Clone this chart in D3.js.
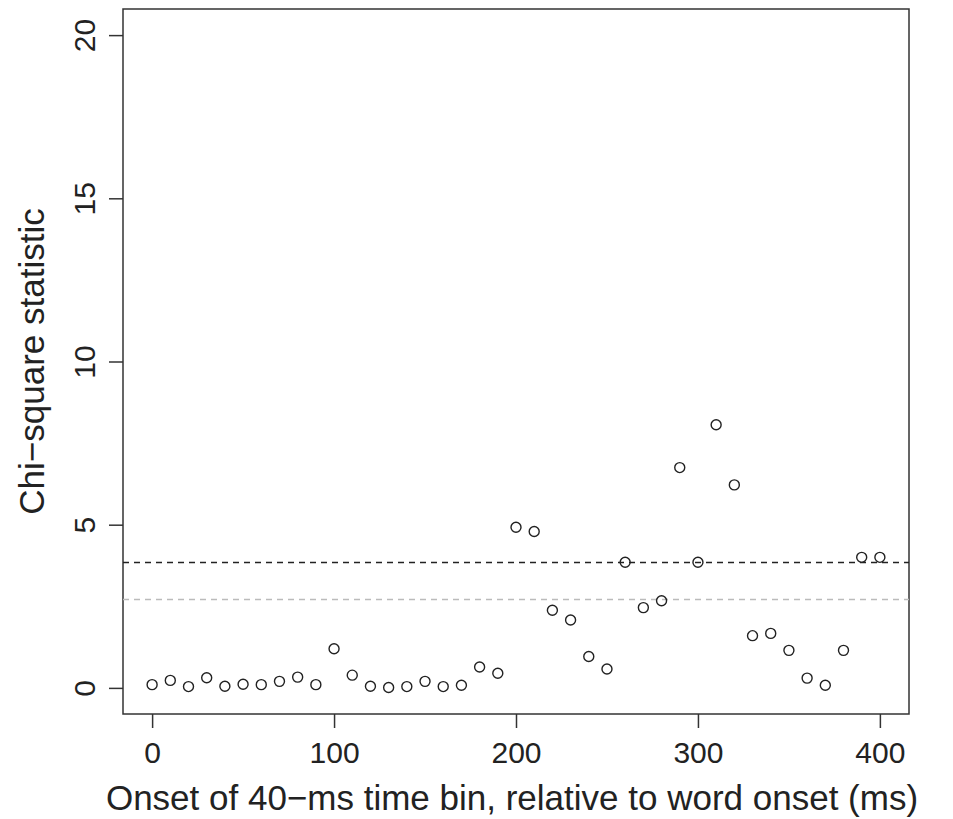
<!DOCTYPE html>
<html>
<head>
<meta charset="utf-8">
<script src="https://cdn.jsdelivr.net/npm/d3@7"></script>
<style>
  body { margin: 0; background: #fff; }
  svg { display: block; font-family: "Liberation Sans", Arial, sans-serif; }
</style>
</head>
<body>
<div id="container"></div>
<script>
// bin onset (ms) and chi-square value per bin
const onsets = [0, 10, 20, 30, 40, 50, 60, 70, 80, 90,
                100, 110, 120, 130, 140, 150, 160, 170, 180, 190,
                200, 210, 220, 230, 240, 250, 260, 270, 280, 290,
                300, 310, 320, 330, 340, 350, 360, 370, 380, 390, 400];
const chiSq  = [0.10, 0.23, 0.04, 0.31, 0.05, 0.11, 0.10, 0.20, 0.33, 0.10,
                1.20, 0.39, 0.05, 0.01, 0.04, 0.20, 0.04, 0.08, 0.64, 0.45,
                4.92, 4.79, 2.38, 2.08, 0.96, 0.58, 3.85, 2.46, 2.67, 6.75,
                3.85, 8.06, 6.22, 1.60, 1.67, 1.15, 0.30, 0.08, 1.15, 4.00, 4.00];
const xTicks = [0, 100, 200, 300, 400];
const yTicks = [0, 5, 10, 15, 20];
// critical values, p = .05 (black) and p = .10 (grey)
const critical = [3.84, 2.71];
const critColors = ["#222", "#bbb"];

const width = 953, height = 819;
const box = { left: 123, right: 909, top: 9, bottom: 714 };

const svg = d3.select("#container").append("svg")
  .attr("width", width)
  .attr("height", height);

// R style: 4% padding each side
const x = d3.scaleLinear().domain([-16, 416]).range([box.left, box.right]);
const y = d3.scaleLinear().domain([-0.8, 20.8]).range([box.bottom, box.top]);

// x axis
const xAxis = svg.append("g")
  .attr("transform", `translate(0,${box.bottom})`)
  .call(d3.axisBottom(x).tickValues(xTicks).tickSize(14).tickPadding(14).tickFormat(d3.format("d")));
xAxis.select(".domain").remove();
xAxis.selectAll("line").attr("stroke", "#333").attr("stroke-width", 1.5);
xAxis.selectAll("text").attr("font-size", 30).attr("fill", "#222")
  .attr("font-family", "Liberation Sans, Arial, sans-serif");

// y axis, labels parallel to the axis
const yAxis = svg.append("g")
  .attr("transform", `translate(${box.left},0)`)
  .call(d3.axisLeft(y).tickValues(yTicks).tickSize(14).tickFormat(d3.format("d")));
yAxis.select(".domain").remove();
yAxis.selectAll("line").attr("stroke", "#333").attr("stroke-width", 1.5);
yAxis.selectAll("text")
  .attr("font-size", 30).attr("fill", "#222")
  .attr("font-family", "Liberation Sans, Arial, sans-serif")
  .attr("text-anchor", "middle")
  .attr("x", null).attr("dy", null)
  .attr("transform", "translate(-28,0) rotate(-90)");

// plot frame
svg.append("rect")
  .attr("x", box.left).attr("y", box.top)
  .attr("width", box.right - box.left).attr("height", box.bottom - box.top)
  .attr("fill", "none").attr("stroke", "#333").attr("stroke-width", 1.5);

// reference lines
svg.selectAll("line.crit")
  .data(critical)
  .join("line")
    .attr("class", "crit")
    .attr("x1", box.left).attr("x2", box.right)
    .attr("y1", d => y(d)).attr("y2", d => y(d))
    .attr("stroke", (d, i) => critColors[i])
    .attr("stroke-width", 1.5)
    .attr("stroke-dasharray", "6,5");

// points
svg.selectAll("circle.pt")
  .data(onsets.map((t, i) => ({ t, v: chiSq[i] })))
  .join("circle")
    .attr("class", "pt")
    .attr("cx", d => x(d.t))
    .attr("cy", d => y(d.v))
    .attr("r", 5)
    .attr("fill", "none")
    .attr("stroke", "#222")
    .attr("stroke-width", 1.4);

// axis titles
svg.append("text")
  .attr("x", 512)
  .attr("y", 810)
  .attr("text-anchor", "middle")
  .attr("font-size", 35)
  .attr("fill", "#222")
  .text("Onset of 40\u2212ms time bin, relative to word onset (ms)");

svg.append("text")
  .attr("transform", `translate(44,${(box.top + box.bottom) / 2}) rotate(-90)`)
  .attr("text-anchor", "middle")
  .attr("font-size", 35)
  .attr("fill", "#222")
  .text("Chi\u2212square statistic");
</script>
</body>
</html>
